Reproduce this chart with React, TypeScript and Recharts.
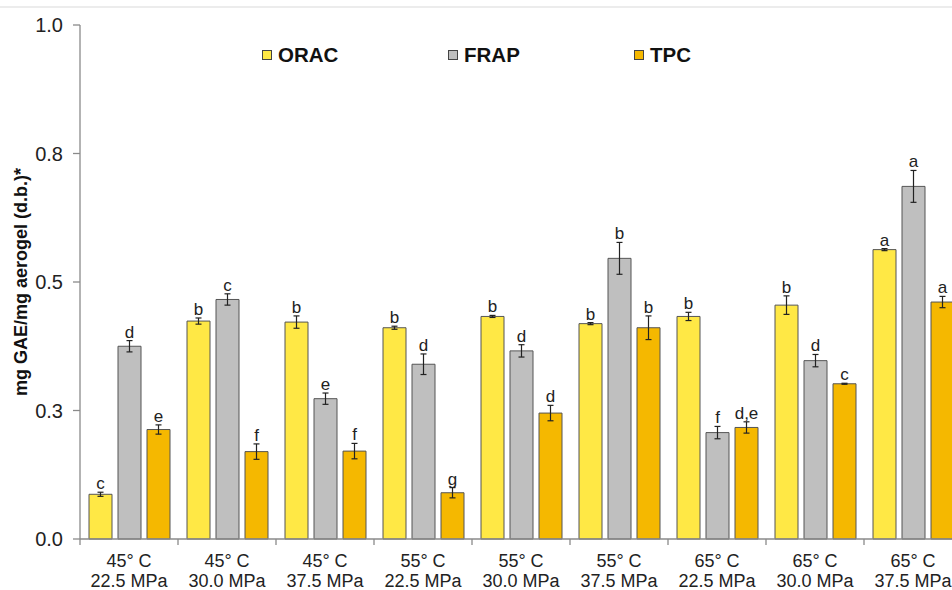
import React from 'react';
import { BarChart, Bar, XAxis, YAxis, Legend, ErrorBar, LabelList } from 'recharts';

const temps = ['45° C', '45° C', '45° C', '55° C', '55° C', '55° C', '65° C', '65° C', '65° C'];
const pressures = ['22.5 MPa', '30.0 MPa', '37.5 MPa', '22.5 MPa', '30.0 MPa', '37.5 MPa', '22.5 MPa', '30.0 MPa', '37.5 MPa'];

const orac = [0.087, 0.424, 0.422, 0.411, 0.433, 0.419, 0.433, 0.455, 0.563];
const frap = [0.375, 0.466, 0.273, 0.340, 0.366, 0.546, 0.207, 0.347, 0.686];
const tpc = [0.213, 0.170, 0.171, 0.090, 0.245, 0.411, 0.217, 0.302, 0.461];

const oracErr = [0.004, 0.006, 0.012, 0.003, 0.002, 0.002, 0.008, 0.018, 0.002];
const frapErr = [0.011, 0.011, 0.011, 0.020, 0.012, 0.031, 0.012, 0.012, 0.031];
const tpcErr = [0.009, 0.015, 0.015, 0.010, 0.015, 0.023, 0.011, 0.001, 0.011];

const oracSig = ['c', 'b', 'b', 'b', 'b', 'b', 'b', 'b', 'a'];
const frapSig = ['d', 'c', 'e', 'd', 'd', 'b', 'f', 'd', 'a'];
const tpcSig = ['e', 'f', 'f', 'g', 'd', 'b', 'd,e', 'c', 'a'];

const seriesOrder = ['ORAC', 'FRAP', 'TPC'];
const yTicks = [0, 0.25, 0.5, 0.75, 1];

const FONT = '"Liberation Sans", Arial, sans-serif';
const CHART_W = 962;
const CHART_H = 590;
const Y_AXIS_W = 80;
const BAND = (CHART_W - Y_AXIS_W) / temps.length;

const data = temps.map((t, i) => ({
  temp: t,
  pressure: pressures[i],
  label: `${t} ${pressures[i]}`,
  ORAC: orac[i],
  FRAP: frap[i],
  TPC: tpc[i],
  oracErr: oracErr[i],
  frapErr: frapErr[i],
  tpcErr: tpcErr[i],
}));

// letters sit just above the error bar cap; px per unit comes from the bar itself
const sigLabel = (sig: string[], err: number[], vals: number[]) => (props: any) => {
  const vb = props.viewBox && props.viewBox.width !== undefined ? props.viewBox : props;
  const { x, y, width, height } = vb;
  const i = props.index;
  const pxPerUnit = Math.abs(height) / vals[i];
  const top = y - err[i] * pxPerUnit;
  return (
    <text x={x + width / 2} y={top - 3} textAnchor="middle" fontSize={17} fontFamily={FONT} fill="#222">
      {sig[i]}
    </text>
  );
};

const XTick = (props: any) => {
  const { x, y, payload, index } = props;
  const half = BAND / 2;
  const d = data[index] || data.find((r) => r.label === payload.value);
  return (
    <g>
      <line x1={x - half} y1={y} x2={x - half} y2={y + 6} stroke="#8a8a8a" strokeWidth={1.3} />
      {index === temps.length - 1 && (
        <line x1={x + half} y1={y} x2={x + half} y2={y + 6} stroke="#8a8a8a" strokeWidth={1.3} />
      )}
      <text x={x} y={y + 28} textAnchor="middle" fontSize={18} fontFamily={FONT} fill="#222">
        {d ? d.temp : ''}
      </text>
      <text x={x} y={y + 48} textAnchor="middle" fontSize={18} fontFamily={FONT} fill="#222">
        {d ? d.pressure : ''}
      </text>
    </g>
  );
};

const renderLegend = (props: any) => {
  const items = [...(props.payload || [])].sort(
    (a: any, b: any) => seriesOrder.indexOf(a.value) - seriesOrder.indexOf(b.value)
  );
  return (
    <div style={{ display: 'flex' }}>
      {items.map((p: any) => (
        <div key={p.value} style={{ width: 186, display: 'flex', alignItems: 'center' }}>
          <span
            style={{
              display: 'inline-block',
              width: 8,
              height: 8,
              background: p.color,
              border: '1px solid #444',
              marginRight: 6,
            }}
          />
          <span style={{ fontWeight: 700, fontSize: 20.5, fontFamily: FONT, color: '#111' }}>{p.value}</span>
        </div>
      ))}
    </div>
  );
};

const YLabel = (props: any) => {
  const vb = props.viewBox;
  const cx = vb.x + 21;
  const cy = vb.y + vb.height / 2;
  return (
    <text
      x={cx}
      y={cy}
      transform={`rotate(-90 ${cx} ${cy})`}
      textAnchor="middle"
      dominantBaseline="central"
      fontSize={18}
      fontWeight={700}
      fontFamily={FONT}
      fill="#111"
    >
      mg GAE/mg aerogel (d.b.)*
    </text>
  );
};

const App = () => {
  return (
    <div style={{ position: 'fixed', left: 0, top: 0, width: 952, height: 590, overflow: 'hidden', background: '#fff' }}>
      <div style={{ position: 'absolute', left: 0, top: 6, width: 952, height: 2, background: '#ececec' }} />
      <BarChart
        width={CHART_W}
        height={CHART_H}
        data={data}
        margin={{ top: 25, right: 0, bottom: 0, left: 0 }}
        barSize={23}
        barGap={6}
      >
        <XAxis
          dataKey="label"
          height={51}
          axisLine={{ stroke: '#8a8a8a', strokeWidth: 1.3 }}
          tickLine={false}
          tickSize={0}
          tickMargin={0}
          interval={0}
          tick={<XTick />}
        />
        <YAxis
          width={Y_AXIS_W}
          domain={[0, 1]}
          ticks={yTicks}
          tickFormatter={(v: number) => v.toFixed(1)}
          axisLine={{ stroke: '#8a8a8a', strokeWidth: 1.3 }}
          tickLine={{ stroke: '#8a8a8a', strokeWidth: 1.3 }}
          tickSize={7}
          tickMargin={10}
          tick={{ fontSize: 20, fontFamily: FONT, fill: '#222' }}
          label={{ content: <YLabel /> }}
        />
        <Legend
          layout="horizontal"
          verticalAlign="middle"
          align="center"
          itemSorter={null as any}
          wrapperStyle={{ top: 43, left: 262, width: 560 }}
          content={renderLegend}
        />
        <Bar dataKey="ORAC" fill="#ffe845" stroke="#555" strokeWidth={1} isAnimationActive={false}>
          <ErrorBar dataKey="oracErr" width={3} stroke="#222" strokeWidth={1.2} />
          <LabelList dataKey="ORAC" content={sigLabel(oracSig, oracErr, orac)} />
        </Bar>
        <Bar dataKey="FRAP" fill="#bfbfbf" stroke="#555" strokeWidth={1} isAnimationActive={false}>
          <ErrorBar dataKey="frapErr" width={3} stroke="#222" strokeWidth={1.2} />
          <LabelList dataKey="FRAP" content={sigLabel(frapSig, frapErr, frap)} />
        </Bar>
        <Bar dataKey="TPC" fill="#f5b800" stroke="#555" strokeWidth={1} isAnimationActive={false}>
          <ErrorBar dataKey="tpcErr" width={3} stroke="#222" strokeWidth={1.2} />
          <LabelList dataKey="TPC" content={sigLabel(tpcSig, tpcErr, tpc)} />
        </Bar>
      </BarChart>
    </div>
  );
};

export default App;
